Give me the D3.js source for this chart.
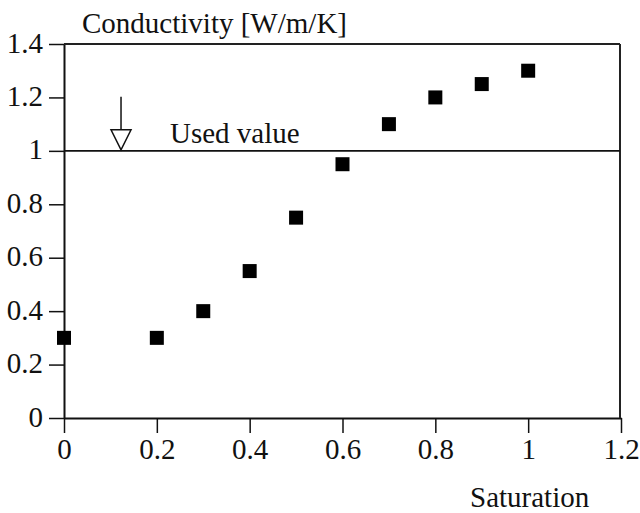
<!DOCTYPE html>
<html><head><meta charset="utf-8">
<script src="https://cdn.jsdelivr.net/npm/d3@7"></script>
<style>body{margin:0;background:#fff}svg{display:block}</style>
</head><body>
<script>
const saturation = [0, 0.2, 0.3, 0.4, 0.5, 0.6, 0.7, 0.8, 0.9, 1.0];
const conductivity = [0.3, 0.3, 0.4, 0.55, 0.75, 0.95, 1.1, 1.2, 1.25, 1.3];
const xTicks = [0, 0.2, 0.4, 0.6, 0.8, 1, 1.2];
const yTicks = [0, 0.2, 0.4, 0.6, 0.8, 1, 1.2, 1.4];
const usedValue = 1.0;
const arrowX = 0.125;

const FONT = "'Liberation Serif', Tinos, 'Times New Roman', Times, 'DejaVu Serif', serif";
const FS = "29px";
const W = 640, H = 513;
const m = {left: 64, right: 620, top: 44, bottom: 418};
const svg = d3.select("body").append("svg").attr("width", W).attr("height", H)
  .style("font-family", FONT);
const x = d3.scaleLinear().domain([0, 1.2]).range([m.left, 621]);
const y = d3.scaleLinear().domain([0, 1.4]).range([m.bottom, m.top]);
const fmt = d => d3.format("")(d);

function styleText(sel) {
  sel.style("font-family", FONT).style("font-size", FS).attr("fill", "#111");
}

// x axis
const xa = svg.append("g").attr("transform", `translate(0,${m.bottom})`)
  .call(d3.axisBottom(x).tickValues(xTicks).tickFormat(fmt).tickSize(15).tickSizeOuter(0));
xa.attr("font-family", null).attr("font-size", null);
xa.select(".domain").attr("stroke", "#111").attr("stroke-width", 2);
xa.selectAll(".tick line").attr("stroke", "#111").attr("stroke-width", 1.5);
styleText(xa.selectAll("text"));
xa.selectAll("text").attr("y", 41).attr("dy", 0);

// y axis
const ya = svg.append("g").attr("transform", `translate(${m.left},0)`)
  .call(d3.axisLeft(y).tickValues(yTicks).tickFormat(fmt).tickSize(15).tickSizeOuter(0).tickPadding(6));
ya.attr("font-family", null).attr("font-size", null);
ya.select(".domain").attr("stroke", "#111").attr("stroke-width", 2);
ya.selectAll(".tick line").attr("stroke", "#111").attr("stroke-width", 1.5);
styleText(ya.selectAll("text"));
ya.selectAll("text").attr("dy", "0.28em");

// top and right border
svg.append("line").attr("x1", m.left).attr("x2", m.right).attr("y1", y(1.4)).attr("y2", y(1.4))
  .attr("stroke", "#222").attr("stroke-width", 2);
svg.append("line").attr("x1", m.right).attr("x2", m.right).attr("y1", y(1.4)).attr("y2", y(0))
  .attr("stroke", "#222").attr("stroke-width", 2);

// used value line
svg.append("line").attr("x1", m.left).attr("x2", m.right).attr("y1", y(usedValue)).attr("y2", y(usedValue))
  .attr("stroke", "#111").attr("stroke-width", 1.6);

// arrow
const ax = x(arrowX) - 1;
svg.append("line").attr("x1", ax).attr("x2", ax).attr("y1", y(usedValue) - 54).attr("y2", y(usedValue) - 21)
  .attr("stroke", "#111").attr("stroke-width", 1.5);
svg.append("path")
  .attr("d", `M${ax - 10},${y(usedValue) - 21} L${ax + 10},${y(usedValue) - 21} L${ax},${y(usedValue) - 1} Z`)
  .attr("fill", "#fff").attr("stroke", "#111").attr("stroke-width", 1.5);

styleText(svg.append("text").attr("x", 170).attr("y", 143).text("Used value"));

// points
const s = 14;
svg.append("g").selectAll("rect").data(saturation.map((d, i) => [d, conductivity[i]])).join("rect")
  .attr("x", d => x(d[0]) - s / 2).attr("y", d => y(d[1]) - s / 2)
  .attr("width", s).attr("height", s).attr("fill", "#000");

// titles
styleText(svg.append("text").attr("x", 82).attr("y", 33).text("Conductivity [W/m/K]"));
styleText(svg.append("text").attr("x", 470).attr("y", 507).text("Saturation"));
</script>
</body></html>
